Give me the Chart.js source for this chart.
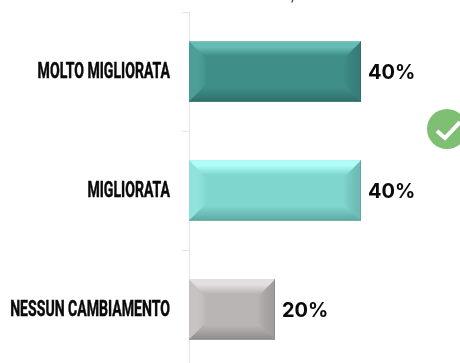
<!DOCTYPE html>
<html>
<head>
<meta charset="utf-8">
<script src="https://cdn.jsdelivr.net/npm/chart.js@4"></script>
<style>
  html, body { margin: 0; padding: 0; background: #fff; overflow: hidden; }
  canvas { display: block; }
</style>
</head>
<body>
<canvas id="myChart" width="460" height="385"></canvas>
<script>
const categories = ["MOLTO MIGLIORATA", "MIGLIORATA", "NESSUN CAMBIAMENTO"];
const percentages = [40, 40, 20];
const barColors = ["#3f8f88", "#7fd6ce", "#b9b5b4"];
const lightEdges = ["#66bdb5", "#aefdf8", "#e2dfde"];
const darkEdges = ["#2f6f6a", "#5fa8a2", "#8f8c8b"];

// bevelled face for every bar, painted over the flat bar
const bevelBars = {
  id: "bevelBars",
  afterDatasetsDraw(chart) {
    const c = chart.ctx;
    chart.getDatasetMeta(0).data.forEach((bar, i) => {
      const x0 = bar.base, x1 = bar.x;
      const y0 = bar.y - bar.height / 2, y1 = bar.y + bar.height / 2;
      const b = 18;
      const face = (pts, fill) => {
        c.beginPath();
        pts.forEach((p, k) => (k ? c.lineTo(p[0], p[1]) : c.moveTo(p[0], p[1])));
        c.closePath();
        c.fillStyle = fill;
        c.fill();
      };
      c.save();
      const top = c.createLinearGradient(0, y0, 0, y0 + b);
      top.addColorStop(0, lightEdges[i]);
      top.addColorStop(0.3, lightEdges[i]);
      top.addColorStop(0.8, barColors[i]);
      face([[x0, y0], [x1, y0], [x1 - b, y0 + b], [x0 + b, y0 + b]], top);
      const bottom = c.createLinearGradient(0, y1 - b, 0, y1);
      bottom.addColorStop(0.2, barColors[i]);
      bottom.addColorStop(1, darkEdges[i]);
      face([[x0, y1], [x1, y1], [x1 - b, y1 - b], [x0 + b, y1 - b]], bottom);
      const right = c.createLinearGradient(x1 - b, 0, x1, 0);
      right.addColorStop(0, barColors[i]);
      right.addColorStop(1, darkEdges[i] + "99");
      face([[x1, y0], [x1, y1], [x1 - b, y1 - b], [x1 - b, y0 + b]], right);
      const left = c.createLinearGradient(x0, 0, x0 + b, 0);
      left.addColorStop(0, lightEdges[i] + "44");
      left.addColorStop(1, barColors[i]);
      face([[x0, y0], [x0, y1], [x0 + b, y1 - b], [x0 + b, y0 + b]], left);
      c.fillStyle = darkEdges[i];
      c.fillRect(x0, y1 - 1, x1 - x0, 1);
      c.fillRect(x1 - 1, y0, 1, y1 - y0);
      c.restore();
    });
  },
};

// category names squeezed into a condensed look, percentages after each bar
const barText = {
  id: "barText",
  afterDatasetsDraw(chart) {
    const c = chart.ctx;
    const yAxis = chart.scales.y;
    c.save();
    c.fillStyle = "#0a0a0a";
    c.strokeStyle = "#0a0a0a";
    c.textBaseline = "middle";
    categories.forEach((name, i) => {
      c.save();
      c.translate(170, yAxis.getPixelForValue(i) + 1);
      c.scale(0.64, 1);
      c.font = "bold 22px Roboto";
      c.textAlign = "right";
      c.lineWidth = 0.5;
      c.fillText(name, 0, 0);
      c.strokeText(name, 0, 0);
      c.restore();
    });
    c.font = "700 20px Inter";
    c.textAlign = "left";
    chart.getDatasetMeta(0).data.forEach((bar, i) => {
      c.fillText(percentages[i] + "%", bar.x + 7, bar.y + 1);
    });
    // tail of the heading cut off by the top edge
    c.font = "15px Roboto";
    c.fillStyle = "#444";
    c.fillText(",", 291, -3);
    c.restore();
  },
};

// green check badge on the right edge
const checkBadge = {
  id: "checkBadge",
  afterDraw(chart) {
    const c = chart.ctx;
    c.save();
    c.fillStyle = "#7fbf73";
    c.beginPath();
    c.arc(447, 129, 20, 0, Math.PI * 2);
    c.fill();
    c.strokeStyle = "#fff";
    c.lineWidth = 4;
    c.beginPath();
    c.moveTo(437, 131);
    c.lineTo(445, 138);
    c.lineTo(460, 122);
    c.stroke();
    c.restore();
  },
};

new Chart(document.getElementById("myChart"), {
  type: "bar",
  data: {
    labels: categories,
    datasets: [
      {
        data: percentages,
        backgroundColor: barColors,
        barPercentage: 0.505,
        categoryPercentage: 1,
      },
    ],
  },
  options: {
    indexAxis: "y",
    responsive: false,
    animation: false,
    layout: { padding: { top: 12, right: 13, bottom: 16, left: 0 } },
    plugins: { legend: { display: false }, tooltip: { enabled: false } },
    scales: {
      x: { display: false, min: 0, max: 60 },
      y: {
        afterFit(scale) {
          scale.width = 189;
        },
        border: { color: "#e4e4e4", width: 1 },
        grid: { drawOnChartArea: false, color: "#e4e4e4", tickLength: 7 },
        ticks: { display: false },
      },
    },
  },
  plugins: [bevelBars, barText, checkBadge],
});
</script>
</body>
</html>
